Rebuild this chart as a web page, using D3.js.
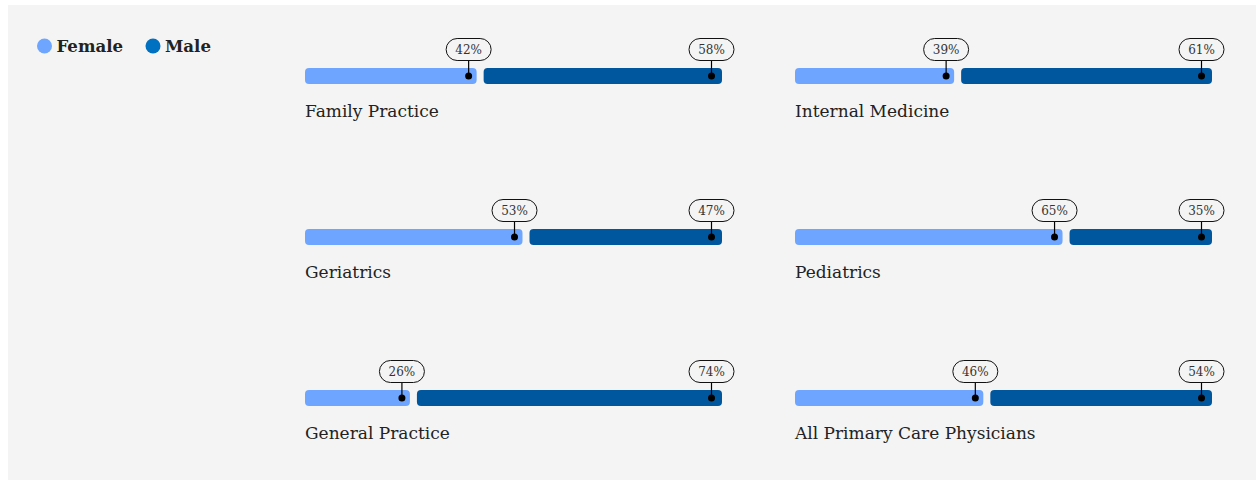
<!DOCTYPE html>
<html>
<head>
<meta charset="utf-8">
<script src="https://cdn.jsdelivr.net/npm/d3@7"></script>
<style>
  html, body { margin: 0; padding: 0; background: #fff; }
  #vis { width: 1257px; height: 480px; }
  text { font-family: "DejaVu Serif", serif; }
</style>
</head>
<body>
<div id="vis"></div>
<script>
const categories = ['Family Practice', 'Internal Medicine', 'Geriatrics', 'Pediatrics', 'General Practice', 'All Primary Care Physicians'];
const female = [42, 39, 53, 65, 26, 46];
const male = [58, 61, 47, 35, 74, 54];
const legendLabels = ['Female', 'Male'];

const colors = { female: '#6ea6ff', male: '#00579e', legendMale: '#0070c0' };

const width = 1257;
const height = 480;
const barW = 417;
const barH = 16;
const gap = 7;

const svg = d3.select('#vis')
              .append('svg')
                .attr('width', width)
                .attr('height', height);

svg.append('rect')
  .attr('x', 8)
  .attr('y', 5)
  .attr('width', 1248)
  .attr('height', 475)
  .attr('fill', '#f4f4f4');

// legend
const legend = svg.append('g').attr('transform', 'translate(44.5, 46)');
const legendX = d3.scaleOrdinal().domain(legendLabels).range([0, 108.5]);
const legendColor = d3.scaleOrdinal().domain(legendLabels).range([colors.female, colors.legendMale]);

legendLabels.forEach(function (l) {
  const g = legend.append('g').attr('transform', 'translate(' + legendX(l) + ',0)');
  g.append('circle').attr('r', 7.5).attr('fill', legendColor(l));
  g.append('text')
    .attr('x', 12)
    .attr('y', 6)
    .attr('font-size', 16.6)
    .attr('font-weight', 'bold')
    .attr('fill', '#222')
    .text(l);
});

const x = d3.scaleLinear().domain([0, 100]).range([0, barW]);
const colX = d3.scaleOrdinal().domain([0, 1]).range([305, 795]);
const rowY = d3.scaleLinear().domain([0, 1]).range([68, 229]);

function callout(g, cx, label) {
  g.append('line')
    .attr('x1', cx).attr('x2', cx)
    .attr('y1', -7).attr('y2', barH / 2)
    .attr('stroke', '#000')
    .attr('stroke-width', 1.2);
  g.append('rect')
    .attr('x', cx - 22.5)
    .attr('y', -29.5)
    .attr('width', 45)
    .attr('height', 22)
    .attr('rx', 11)
    .attr('fill', '#f4f4f4')
    .attr('stroke', '#111')
    .attr('stroke-width', 1);
  g.append('text')
    .attr('x', cx)
    .attr('y', -14)
    .attr('text-anchor', 'middle')
    .attr('font-size', 12)
    .attr('fill', '#333')
    .text(label);
  g.append('circle')
    .attr('cx', cx)
    .attr('cy', barH / 2)
    .attr('r', 3.5)
    .attr('fill', '#000');
}

categories.forEach(function (c, i) {
  const g = svg.append('g')
    .attr('transform', 'translate(' + colX(i % 2) + ',' + rowY(Math.floor(i / 2)) + ')');

  const split = x(female[i]);

  g.append('rect')
    .attr('x', 0)
    .attr('y', 0)
    .attr('width', split - gap / 2)
    .attr('height', barH)
    .attr('rx', 4)
    .attr('fill', colors.female);

  g.append('rect')
    .attr('x', split + gap / 2)
    .attr('y', 0)
    .attr('width', x(female[i] + male[i]) - split - gap / 2)
    .attr('height', barH)
    .attr('rx', 4)
    .attr('fill', colors.male);

  callout(g, split - gap / 2 - 8, female[i] + '%');
  callout(g, x(female[i] + male[i]) - 10.5, male[i] + '%');

  g.append('text')
    .attr('x', 0)
    .attr('y', 49)
    .attr('font-size', 17)
    .attr('fill', '#222')
    .text(c);
});
</script>
</body>
</html>
